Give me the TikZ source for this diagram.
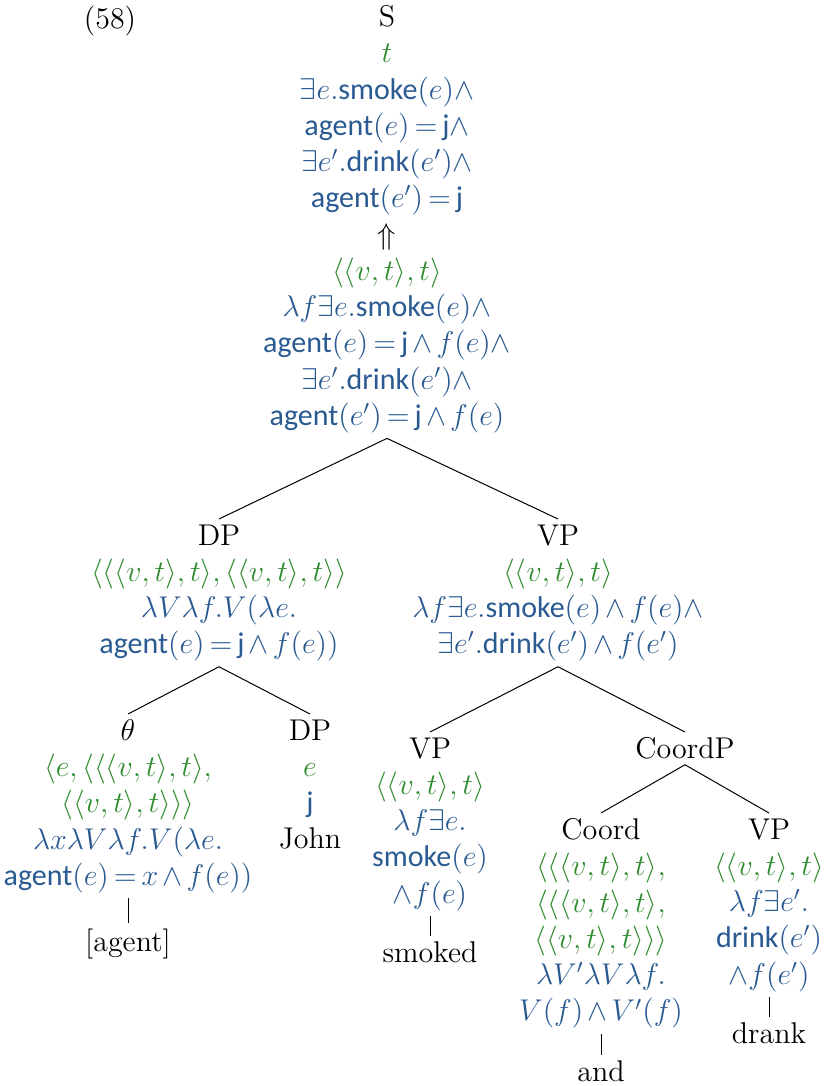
\documentclass[tikz,border=0pt,12pt]{standalone}
\usepackage{amsmath,amssymb}
\usepackage{fontspec}
\setsansfont{Carlito}
\definecolor{typegreen}{HTML}{2E8B2E}
\definecolor{denblue}{HTML}{2A5A92}
\newcommand{\ty}[1]{\textcolor{typegreen}{$#1$}}
\newcommand{\dn}[1]{\textcolor{denblue}{$#1$}}
\newcommand{\sfw}[1]{\text{\sffamily #1}}
\thickmuskip=3mu plus 2mu
\medmuskip=2.5mu plus 2mu
\begin{document}
\begin{tikzpicture}[
  x=0.4pt, y=-0.4pt,
  tnode/.style={anchor=north, align=center, inner sep=2pt},
  branch/.style={black, line width=0.4pt}
]
\useasboundingbox (0,0) rectangle (824,1086);

% --- Root S ---
\node[tnode] (ex) at (110,0) {(58)};
\node[tnode] (s) at (387,0) {S\\
  \ty{t}\\
  \dn{\exists e.\sfw{smoke}(e)\wedge}\\
  \dn{\sfw{agent}(e)=\sfw{j}\wedge}\\
  \dn{\exists e'.\sfw{drink}(e')\wedge}\\
  \dn{\sfw{agent}(e')=\sfw{j}}\\
  $\Uparrow$\\
  \ty{\langle\langle v,t\rangle,t\rangle}\\
  \dn{\lambda f\exists e.\sfw{smoke}(e)\wedge}\\
  \dn{\sfw{agent}(e)=\sfw{j}\wedge f(e)\wedge}\\
  \dn{\exists e'.\sfw{drink}(e')\wedge}\\
  \dn{\sfw{agent}(e')=\sfw{j}\wedge f(e)}};

% --- DP and VP ---
\node[tnode] (dp) at (219,519) {DP\\
  \ty{\langle\langle\langle v,t\rangle,t\rangle,\langle\langle v,t\rangle,t\rangle\rangle}\\
  \dn{\lambda V\lambda f.V(\lambda e.}\\
  \dn{\sfw{agent}(e)=\sfw{j}\wedge f(e))}};
\node[tnode] (vp) at (558,519) {VP\\
  \ty{\langle\langle v,t\rangle,t\rangle}\\
  \dn{\lambda f\exists e.\sfw{smoke}(e)\wedge f(e)\wedge}\\
  \dn{\exists e'.\sfw{drink}(e')\wedge f(e')}};

% --- theta and John ---
\node[tnode] (theta) at (128,714) {$\theta$\\
  \ty{\langle e,\langle\langle\langle v,t\rangle,t\rangle,}\\
  \ty{\langle\langle v,t\rangle,t\rangle\rangle\rangle}\\
  \dn{\lambda x\lambda V\lambda f.V(\lambda e.}\\
  \dn{\sfw{agent}(e)=x\wedge f(e))}};
\node[tnode] (dpj) at (310,714) {DP\\
  \ty{e}\\
  \dn{\sfw{j}}\\
  John};
\node[tnode] (agent) at (128,923) {[agent]};

% --- smoked and CoordP ---
\node[tnode] (vps) at (430,732) {VP\\
  \ty{\langle\langle v,t\rangle,t\rangle}\\
  \dn{\lambda f\exists e.}\\
  \dn{\sfw{smoke}(e)}\\
  \dn{\wedge f(e)}};
\node[tnode] (smoked) at (430,936) {smoked};
\node[tnode] (coordp) at (685,732) {CoordP};

\node[tnode] (coord) at (601,813) {Coord\\
  \ty{\langle\langle\langle v,t\rangle,t\rangle,}\\
  \ty{\langle\langle\langle v,t\rangle,t\rangle,}\\
  \ty{\langle\langle v,t\rangle,t\rangle\rangle\rangle}\\
  \dn{\lambda V'\lambda V\lambda f.}\\
  \dn{V(f)\wedge V'(f)}};
\node[tnode] (and) at (601,1055) {and};
\node[tnode] (vpd) at (769,813) {VP\\
  \ty{\langle\langle v,t\rangle,t\rangle}\\
  \dn{\lambda f\exists e'.}\\
  \dn{\sfw{drink}(e')}\\
  \dn{\wedge f(e')}};
\node[tnode] (drank) at (769,1017) {drank};

% --- Branches ---
\draw[branch] (s.south) -- (dp.north);
\draw[branch] (s.south) -- (vp.north);
\draw[branch] (dp.south) -- (theta.north);
\draw[branch] (dp.south) -- (dpj.north);
\draw[branch] (theta.south) -- (agent.north);
\draw[branch] (vp.south) -- (vps.north);
\draw[branch] (vp.south) -- (coordp.north);
\draw[branch] (vps.south) -- (smoked.north);
\draw[branch] (coordp.south) -- (coord.north);
\draw[branch] (coordp.south) -- (vpd.north);
\draw[branch] (coord.south) -- (and.north);
\draw[branch] (vpd.south) -- (drank.north);

\end{tikzpicture}
\end{document}
